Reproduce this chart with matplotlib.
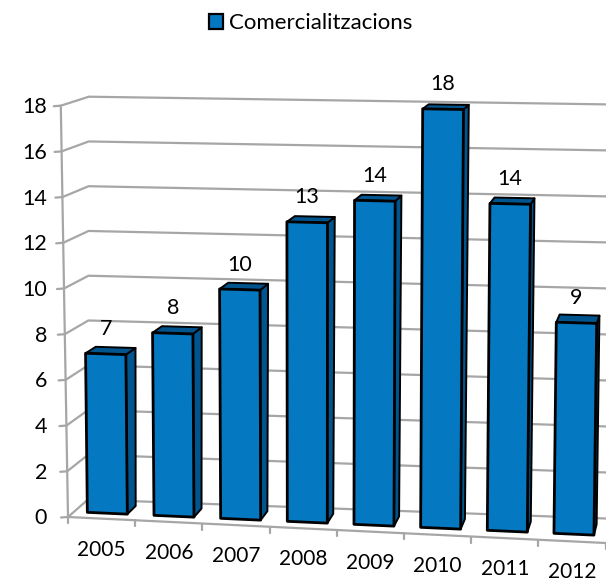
import matplotlib
matplotlib.use('Agg')
import matplotlib.pyplot as plt
from matplotlib.patches import Patch

plt.rcParams['font.family'] = ['Lato', 'DejaVu Sans']

years = ['2005', '2006', '2007', '2008', '2009', '2010', '2011', '2012']
values = [7, 8, 10, 13, 14, 18, 14, 9]
y_ticks = [0, 2, 4, 6, 8, 10, 12, 14, 16, 18]
series_name = 'Comercialitzacions'

FRONT = '#0578C2'
DARK = '#00558F'
GRID = '#A6A6A6'
VMAX = 18.0


# fake 3d: category position u, value v, depth d (0 front, 1 back wall) to pixels
def project(u, v, d=0.0):
    t = v / VMAX
    x = 68 + 67.2 * u + v * (-0.4 + 0.09 * u)
    y = 517 + 3.25 * u - v * (22.85 + 0.115 * u)
    dx = (1 - t) * (20 - 1.8 * u) + t * (28 - 2.8 * u)
    dy = (1 - t) * (-17.5 - 0.85 * u) + t * (-9 - 0.2 * u)
    return x + d * dx, y + d * dy


def poly(ax, pts, **kw):
    xs, ys = zip(*pts)
    ax.fill(xs, ys, **kw)


fig = plt.figure(figsize=(6.06, 5.81), dpi=100)
ax = fig.add_axes([0, 0, 1, 1])
ax.set_xlim(0, 606)
ax.set_ylim(581, 0)
ax.axis('off')

n = len(years)
u_end = n + 0.1
grid = dict(color=GRID, lw=1.6, solid_capstyle='round', zorder=1)

# walls and gridlines
for v in y_ticks:
    a, b, c = project(0, v), project(0, v, 1), project(u_end, v, 1)
    ax.plot([a[0], b[0], c[0]], [a[1], b[1], c[1]], **grid)
    ax.plot([a[0] - 7, a[0]], [a[1] + 0.5, a[1]], **grid)
    ax.text(47, a[1] + 1.5, str(v), ha='right', va='center', fontsize=15.5, color='black')

bottom, top = project(0, 0), project(0, VMAX)
ax.plot([bottom[0], top[0]], [bottom[1], top[1]], **grid)
end = project(u_end, 0)
ax.plot([bottom[0], end[0]], [bottom[1], end[1]], **grid)
for i in range(n + 1):
    p = project(i, 0)
    ax.plot([p[0], p[0]], [p[1], p[1] + 6], **grid)

# bars
half = 0.3
d0, d1 = 0.3, 0.75
edge = dict(edgecolor='black', joinstyle='round', zorder=3)
for i, (year, v) in enumerate(zip(years, values)):
    ul, ur = i + 0.5 - half, i + 0.5 + half
    poly(ax, [project(ur, 0, d0), project(ur, 0, d1), project(ur, v, d1), project(ur, v, d0)],
         facecolor=DARK, lw=1.4, **edge)
    poly(ax, [project(ul, v, d0), project(ul, v, d1), project(ur, v, d1), project(ur, v, d0)],
         facecolor=DARK, lw=1.4, **edge)
    poly(ax, [project(ul, 0, d0), project(ur, 0, d0), project(ur, v, d0), project(ul, v, d0)],
         facecolor=FRONT, lw=2.0, **edge)

    lx, ly = project(i + 0.5, v, d0)
    ax.text(lx, ly - 25, str(v), ha='center', va='center', fontsize=15.5, color='black', zorder=4)

    tx, ty = project(i + 0.5, 0)
    ax.text(tx, ty + 31, year, ha='center', va='center', fontsize=15, color='black')

handle = Patch(facecolor=FRONT, edgecolor='black', lw=1.6)
ax.legend(handles=[handle], labels=[series_name], loc='center', bbox_to_anchor=(0.512, 0.96),
          frameon=False, fontsize=16, handlelength=0.65, handleheight=0.7, handletextpad=0.25)

plt.savefig('out.png', dpi=100)
plt.close()
